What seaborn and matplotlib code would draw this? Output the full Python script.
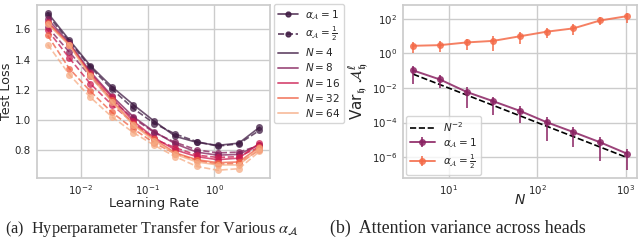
import numpy as np
import pandas as pd
import matplotlib
matplotlib.use("Agg")
import matplotlib.pyplot as plt
import seaborn as sns
from matplotlib.lines import Line2D
from matplotlib.container import ErrorbarContainer

# ---------------- data: panel (a) ----------------
learning_rates = [0.00318, 0.0067, 0.0138, 0.029, 0.061, 0.126, 0.26, 0.545, 1.12, 2.32, 4.73]
widths_N = [4, 8, 16, 32, 64]

loss_alpha1 = {
    4:  [1.71, 1.53, 1.36, 1.22, 1.10, 0.99, 0.89, 0.85, 0.83, 0.845, 0.95],
    8:  [1.67, 1.51, 1.32, 1.16, 1.02, 0.92, 0.84, 0.785, 0.765, 0.77, 0.835],
    16: [1.65, 1.50, 1.31, 1.15, 0.99, 0.88, 0.80, 0.755, 0.735, 0.745, 0.845],
    32: [1.645, 1.50, 1.30, 1.13, 0.97, 0.87, 0.78, 0.735, 0.715, 0.72, 0.82],
    64: [1.635, 1.495, 1.29, 1.12, 0.965, 0.86, 0.77, 0.72, 0.70, 0.70, 0.81],
}
loss_alpha_half = {
    4:  [1.695, 1.52, 1.35, 1.205, 1.075, 0.975, 0.905, 0.855, 0.825, 0.84, 0.93],
    8:  [1.615, 1.45, 1.29, 1.13, 1.01, 0.915, 0.85, 0.80, 0.78, 0.785, 0.83],
    16: [1.595, 1.41, 1.24, 1.10, 0.98, 0.87, 0.815, 0.765, 0.75, 0.755, 0.82],
    32: [1.56, 1.34, 1.19, 1.05, 0.94, 0.845, 0.775, 0.73, 0.705, 0.71, 0.80],
    64: [1.50, 1.30, 1.15, 1.02, 0.915, 0.83, 0.755, 0.69, 0.665, 0.675, 0.79],
}

# ---------------- data: panel (b) ----------------
heads_N = [4, 8, 16, 32, 64, 128, 256, 512, 1024]
var_alpha1 = [0.103, 0.031, 0.0059, 0.0017, 4.7e-4, 1.04e-4, 2.8e-5, 7.2e-6, 1.6e-6]
var_alpha1_low = [0.0177, 0.0100, 7.2e-4, 2.75e-4, 9.1e-5, 8.9e-6, 3.7e-6, 5.9e-7, 1.74e-7]
var_alpha1_high = [0.195, 0.053, 0.0114, 3.1e-3, 8.9e-4, 2.2e-4, 5.2e-5, 1.4e-5, 3.0e-6]
var_alpha_half = [2.75, 3.0, 4.3, 5.3, 9.8, 18.0, 28.0, 80.0, 142.0]
var_alpha_half_low = [1.04, 1.25, 1.6, 1.3, 3.4, 8.2, 11.1, 43.6, 59.0]
var_alpha_half_high = [4.7, 5.3, 7.2, 10.3, 17.4, 30.6, 47.0, 130.0, 220.0]

caption_a = r"(a)  Hyperparameter Transfer for Various $\alpha_{\mathcal{A}}$"
caption_b = "(b)  Attention variance across heads"

# ---------------- style ----------------
sns.set_theme(style="whitegrid")
plt.rcParams['font.family'] = ['DejaVu Sans']
plt.rcParams['mathtext.fontset'] = 'dejavusans'

fig = plt.figure(figsize=(6.4, 2.4), dpi=100)
ax1 = fig.add_axes([0.058, 0.258, 0.364, 0.721])
ax2 = fig.add_axes([0.629, 0.258, 0.367, 0.721])

pal = sns.color_palette("rocket", len(widths_N))
colors = dict(zip(widths_N, pal))

rows = []
for n in widths_N:
    for lr, v in zip(learning_rates, loss_alpha1[n]):
        rows.append(dict(lr=lr, loss=v, N=n, alpha="1"))
    for lr, v in zip(learning_rates, loss_alpha_half[n]):
        rows.append(dict(lr=lr, loss=v, N=n, alpha="1/2"))
df = pd.DataFrame(rows)

for n in widths_N:
    for a, ls in [("1", "-"), ("1/2", "--")]:
        sub = df[(df.N == n) & (df.alpha == a)]
        sns.lineplot(data=sub, x="lr", y="loss", ax=ax1, color=colors[n],
                     linestyle=ls, marker="o", markersize=5, markeredgewidth=0,
                     linewidth=1.2, alpha=0.75, legend=False)
ax1.set_xscale("log")
ax1.set_xlabel("Learning Rate", fontsize=9.3)
ax1.set_ylabel("Test Loss", fontsize=9.2)
ax1.tick_params(axis="y", labelsize=7.4, pad=4.5, length=0)
ax1.tick_params(axis="x", labelsize=7.4, pad=3.5, length=0)
ax1.set_yticks([0.8, 1.0, 1.2, 1.4, 1.6])
ax1.xaxis.set_minor_locator(matplotlib.ticker.NullLocator())
ax1.xaxis.set_label_coords(0.5, -0.11)
ax1.yaxis.set_label_coords(-0.103, 0.5)

handles = [
    Line2D([], [], color=pal[0], linestyle="-", marker="o", markersize=3.5, linewidth=1.2, alpha=0.85),
    Line2D([], [], color=pal[0], linestyle="--", marker="o", markersize=3.5, linewidth=1.2, alpha=0.85),
]
labels = [r"$\alpha_{\mathcal{A}}=1$", r"$\alpha_{\mathcal{A}}=\frac{1}{2}$"]
for n in widths_N:
    handles.append(Line2D([], [], color=colors[n], linewidth=1.4, alpha=0.7))
    labels.append(rf"$N={n}$")
ax1.legend(handles, labels, loc="upper left", bbox_to_anchor=(1.015, 1.005),
           fontsize=7.5, handlelength=1.9, borderaxespad=0.0, labelspacing=0.3,
           frameon=True, borderpad=0.4, handletextpad=0.7)

# ---------------- panel (b) ----------------
c1 = "#8a2262"
c2 = "#f46a48"
Narr = np.array(heads_N, dtype=float)
ref = Narr ** -2.0
sns.lineplot(x=heads_N, y=ref, ax=ax2, color="black", linestyle="--", linewidth=1.2)
ref_handle = ax2.lines[-1]

cont = []
for mean, lo, hi, c in [(var_alpha1, var_alpha1_low, var_alpha1_high, c1),
                        (var_alpha_half, var_alpha_half_low, var_alpha_half_high, c2)]:
    mean = np.array(mean); lo = np.array(lo); hi = np.array(hi)
    sns.lineplot(x=heads_N, y=mean, ax=ax2, color=c, marker="o", markersize=5,
                 markeredgewidth=0, linewidth=1.4, alpha=0.85)
    ln = ax2.lines[-1]
    eb = ax2.errorbar(heads_N, mean, yerr=[mean - lo, hi - mean], fmt="none",
                      ecolor=c, elinewidth=1.3, alpha=0.85, capsize=0)
    cont.append(ErrorbarContainer((ln, (), eb.lines[2]), has_xerr=False, has_yerr=True))

ax2.set_xscale("log")
ax2.set_yscale("log")
ax2.set_yticks([1e-6, 1e-4, 1e-2, 1e0, 1e2])
ax2.yaxis.set_minor_locator(matplotlib.ticker.NullLocator())
ax2.xaxis.set_minor_locator(matplotlib.ticker.NullLocator())
ax2.set_xlabel(r"$N$", fontsize=10)
ax2.set_ylabel(r"$\mathrm{Var}_{\mathfrak{h}}\ \mathcal{A}^{\ell}_{\mathfrak{h}}$", fontsize=11)
ax2.tick_params(axis="y", labelsize=7.4, pad=4, length=0)
ax2.tick_params(axis="x", labelsize=7.4, pad=3.5, length=0)
ax2.xaxis.set_label_coords(0.5, -0.085)
ax2.yaxis.set_label_coords(-0.13, 0.5)
ax2.legend([ref_handle, cont[0], cont[1]],
           [r"$N^{-2}$", r"$\alpha_{\mathcal{A}}=1$", r"$\alpha_{\mathcal{A}}=\frac{1}{2}$"],
           loc="lower left", fontsize=7.5, handlelength=2.4, frameon=True,
           borderaxespad=0.3, labelspacing=0.25)

# captions
renderer = fig.canvas.get_renderer()
ta = fig.text(5 / 640, 0.03, caption_a, fontsize=10.5, family="Liberation Serif",
              math_fontfamily="stix")
w = ta.get_window_extent(renderer).width
fs = 10.5 * (300 - 5) / w
ta.set_fontsize(fs)
fig.text(330 / 640, 0.03, caption_b, fontsize=fs * 1.1, family="Liberation Serif")

fig.savefig("out.png", dpi=100)
